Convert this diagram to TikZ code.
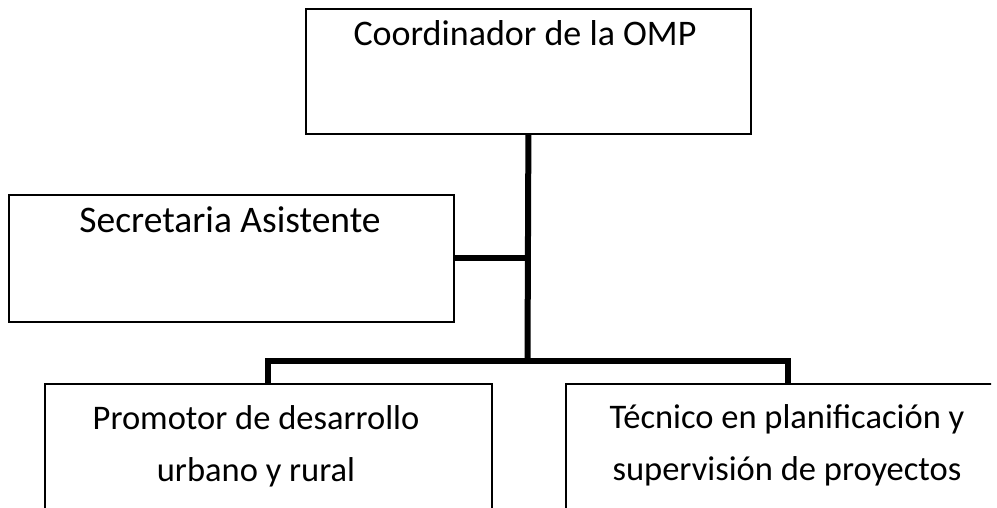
\documentclass[tikz,border=0pt]{standalone}
\usepackage{fontspec}
\setmainfont{Carlito}
\begin{document}
\begin{tikzpicture}[x=1pt,y=-1pt,
  orgbox/.style={draw=black, line width=1.8pt, rectangle, inner sep=0pt, anchor=north west, fill=white},
  lbl/.style={font=\fontsize{36}{52}\selectfont, align=center, anchor=base, inner sep=0pt},
  lblsmall/.style={lbl, font=\fontsize{34.5}{52}\selectfont},
  conn/.style={draw=black, line width=6pt, line cap=butt, line join=miter}]
\useasboundingbox (0,0) rectangle (997,507);
\fill[white] (0,0) rectangle (997,507);
\clip (0,0) rectangle (991,507);
% boxes
\node[orgbox, minimum width=445pt, minimum height=125pt] (coord) at (305,8) {};
\node[orgbox, minimum width=445pt, minimum height=127pt] (sec) at (8,194) {};
\node[orgbox, minimum width=447pt, minimum height=160pt] (prom) at (44,383) {};
\node[orgbox, minimum width=444pt, minimum height=160pt] (tec) at (565,383) {};
% labels
\node[lbl] (tcoord) at (525,45) {Coordinador de la OMP};
\node[lbl, font=\fontsize{37.5}{52}\selectfont] (tsec) at (230,232) {Secretaria Asistente};
\node[lblsmall] (tprom) at (256,481) {Promotor de desarrollo\\urbano y rural};
\node[lblsmall] (ttec) at (787,480) {Técnico en planificación y\\supervisión de proyectos};
% connectors
\coordinate (jn) at (527.5,361);
\draw[conn] (coord.south) -- (jn);
\draw[conn] (sec.east) -- (sec.east -| jn);
\draw[conn] (prom.north) |- (jn) -| (tec.north);
\end{tikzpicture}
\end{document}
